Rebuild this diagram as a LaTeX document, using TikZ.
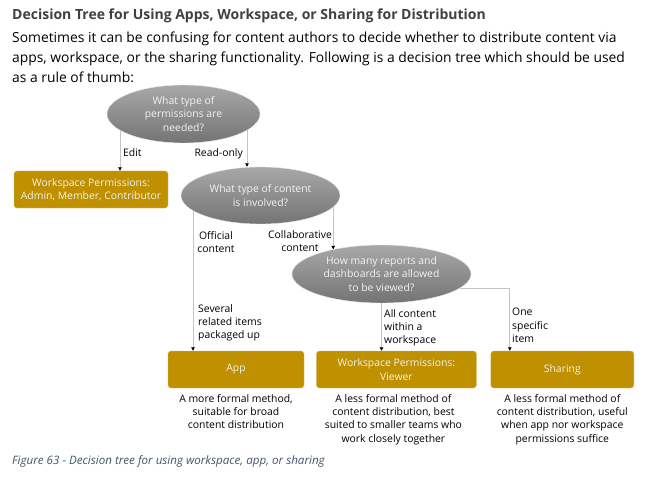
\documentclass[tikz,border=0pt]{standalone}
\usepackage{fontspec}
\setmainfont{Open Sans}
\usepackage{xcolor}
\usetikzlibrary{arrows.meta,positioning,shapes.geometric,backgrounds}

\definecolor{gold}{HTML}{BF9000}
\definecolor{qtop}{HTML}{A8A8A8}
\definecolor{qbot}{HTML}{747474}
\definecolor{linegray}{HTML}{C4C4C4}
\definecolor{capblue}{HTML}{44546A}
\definecolor{titlegray}{HTML}{404040}
\definecolor{paletext}{HTML}{F2F2F2}

\begin{document}
\begin{tikzpicture}[
      x=1pt, y=-1pt,
      node distance=12pt,
      question/.style={ellipse, draw=white!80!gray, top color=qtop, bottom color=qbot, text=paletext, align=center, inner sep=0pt, font=\fontsize{10.4}{13.3}\selectfont},
      answer/.style={draw=gold!60!white, fill=gold, rounded corners=3pt, text=paletext, align=center, minimum height=37pt, inner sep=0pt, font=\fontsize{10.4}{13.3}\selectfont},
      note/.style={align=center, inner sep=0pt, font=\fontsize{10.4}{13.3}\selectfont},
      lbl/.style={align=left, inner sep=0pt, font=\fontsize{10.4}{13.3}\selectfont},
      arr/.style={draw=linegray, line width=0.8pt, -{Triangle[length=3.5pt, width=3.5pt, color=black]}}
    ]
      \path[use as bounding box] (0,0) rectangle (658,481);

      \node[anchor=base west, inner sep=0pt, text=titlegray, font=\fontsize{14}{16}\selectfont\bfseries] (title) at (12,20) {Decision Tree for Using Apps, Workspace, or Sharing for Distribution};
      \node[anchor=north west, inner sep=0pt, align=left, font=\fontsize{13.85}{19.7}\selectfont] (intro) at (12,32) {Sometimes it can be confusing for content authors to decide whether to distribute content via\\apps, workspace, or the sharing functionality. Following is a decision tree which should be used\\as a rule of thumb:};

      \node[question, minimum width=153pt, minimum height=58pt] (perm) at (183.5,114) {What type of\\permissions are\\needed?};
      \node[question, minimum width=159pt, minimum height=57pt] (kind) at (260.5,195.5) {What type of content\\is involved?};
      \node[question, minimum width=179pt, minimum height=58pt] (count) at (381.5,274) {How many reports and\\dashboards are allowed\\to be viewed?};

      \node[answer, minimum width=154pt] (wsadmin) at (91,189.5) {Workspace Permissions:\\Admin, Member, Contributor};
      \node[answer, minimum width=136pt] (app) at (236,369.5) {App};
      \node[answer, minimum width=160pt, right=12pt of app] (wsview) {Workspace Permissions:\\Viewer};
      \node[answer, minimum width=143pt, right=14pt of wsview] (share) {Sharing};

      \node[note, below=6pt of app] (appnote) {A more formal method,\\suitable for broad\\content distribution};
      \node[note, below=6pt of wsview, xshift=-3pt] (viewnote) {A less formal method of\\content distribution, best\\suited to smaller teams who\\work closely together};
      \node[note, below=6pt of share] (sharenote) {A less formal method of\\content distribution, useful\\when app nor workspace\\permissions suffice};

      \begin{scope}[on background layer]
        \draw[arr] ([xshift=-63.5pt]perm.center) -- ([xshift=-63.5pt]perm.center |- wsadmin.north);
        \draw[arr] ([xshift=63.5pt]perm.center) -- ([xshift=63.5pt]perm.center |- kind.north);
        \draw[arr] ([xshift=-67.5pt]kind.center) -- ([xshift=-67.5pt]kind.center |- app.north);
        \draw[arr] (kind.center -| count.153) -- (count.153);
        \draw[arr] (count.south) -- (count.south |- wsview.north);
        \draw[arr] (count.-10) -| ([xshift=-52.5pt]share.north);
      \end{scope}

      \node[lbl, anchor=base west] (edit) at (123,157) {Edit};
      \node[lbl, anchor=base east] (ro) at (243,157) {Read-only};
      \node[note, anchor=north] (official) at (216,231) {Official\\content};
      \node[note, anchor=north] (collab) at (300,230) {Collaborative\\content};
      \node[lbl, anchor=north west] (several) at (198,304) {Several\\related items\\packaged up};
      \node[lbl, anchor=north west] (allc) at (384,309) {All content\\within a\\workspace};
      \node[lbl, anchor=north west] (onei) at (512,308) {One\\specific\\item};

      \node[anchor=base west, inner sep=0pt, text=capblue, font=\fontsize{11.6}{13}\selectfont\itshape] (caption) at (12,464) {Figure 63 - Decision tree for using workspace, app, or sharing};
    \end{tikzpicture}
\end{document}
